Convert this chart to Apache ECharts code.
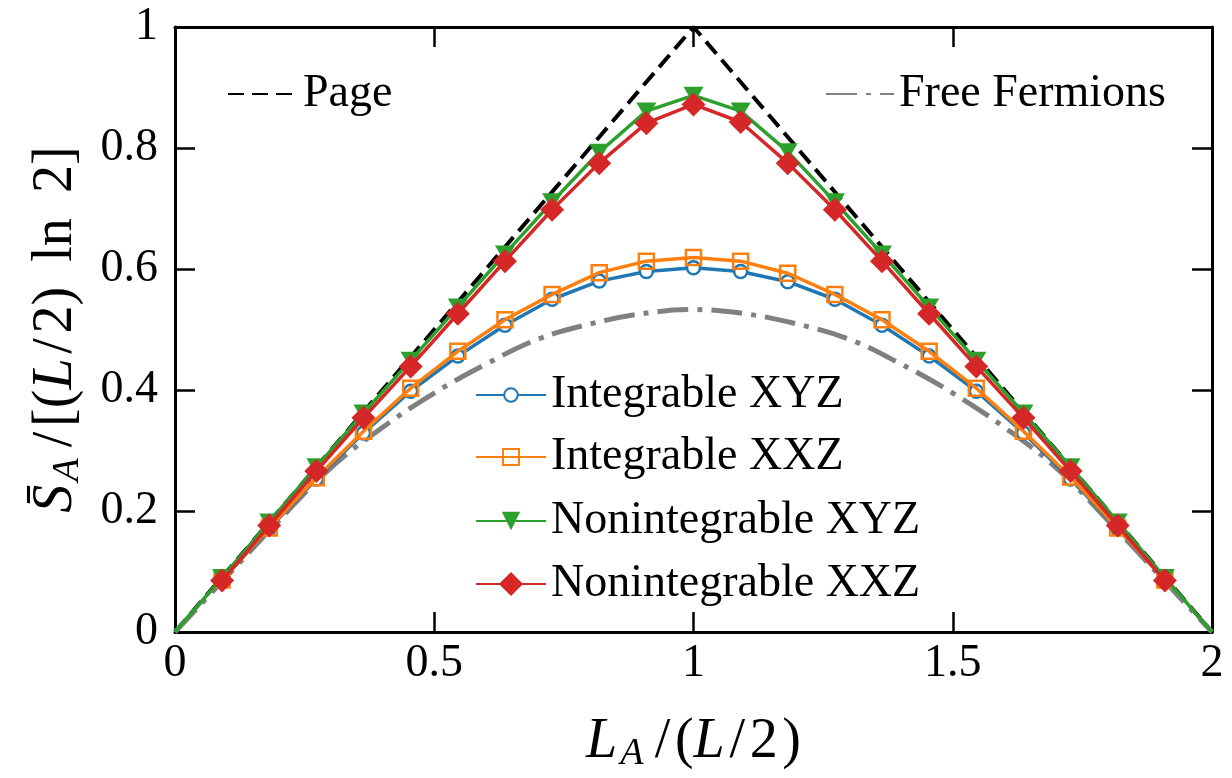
<!DOCTYPE html>
<html>
<head>
<meta charset="utf-8">
<script src="https://cdn.jsdelivr.net/npm/echarts@6/dist/echarts.min.js"></script>
<style>
  html, body { margin: 0; padding: 0; background: #ffffff; }
  #chart { width: 1232px; height: 778px; }
</style>
</head>
<body>
<div id="chart"></div>
<script>
// ---- data ----
const xValues = [0, 0.0909, 0.1818, 0.2727, 0.3636, 0.4545, 0.5455, 0.6364, 0.7273, 0.8182, 0.9091, 1.0,
                 1.0909, 1.1818, 1.2727, 1.3636, 1.4545, 1.5455, 1.6364, 1.7273, 1.8182, 1.9091, 2.0];
const integrableXYZ = [null, 0.086, 0.171, 0.253, 0.329, 0.398, 0.456, 0.507, 0.550, 0.580, 0.596, 0.602,
                       0.596, 0.579, 0.550, 0.507, 0.456, 0.398, 0.329, 0.253, 0.171, 0.086, null];
const integrableXXZ = [null, 0.086, 0.172, 0.255, 0.332, 0.403, 0.464, 0.516, 0.558, 0.594, 0.613, 0.619,
                       0.613, 0.593, 0.558, 0.516, 0.464, 0.403, 0.332, 0.256, 0.172, 0.086, null];
const nonintXYZ = [0, 0.090, 0.182, 0.273, 0.362, 0.449, 0.537, 0.625, 0.711, 0.793, 0.861, 0.887,
                   0.861, 0.794, 0.711, 0.625, 0.537, 0.449, 0.362, 0.273, 0.182, 0.090, 0];
const nonintXXZ = [null, 0.085, 0.176, 0.266, 0.354, 0.439, 0.526, 0.613, 0.698, 0.775, 0.841, 0.872,
                   0.843, 0.775, 0.698, 0.613, 0.526, 0.439, 0.354, 0.266, 0.176, 0.085, null];
const pageX = [0, 1, 2];
const pageY = [0, 1, 0];
const ffX = [0, 0.1, 0.2, 0.3, 0.4, 0.5, 0.6, 0.7, 0.8, 0.9, 1.0, 1.1, 1.2, 1.3, 1.4, 1.5, 1.6, 1.7, 1.8, 1.9, 2.0];
const ffY = [0, 0.092, 0.184, 0.271, 0.338, 0.395, 0.443, 0.484, 0.509, 0.526, 0.533,
             0.526, 0.509, 0.484, 0.443, 0.395, 0.338, 0.271, 0.184, 0.092, 0];
const xTicks = [0, 0.5, 1, 1.5, 2];
const yTicks = [0, 0.2, 0.4, 0.6, 0.8, 1];

// ---- build ----
const FONT = '"Liberation Serif", "DejaVu Serif", serif';
const TS = '\u2009'; // thin space (math-like spacing)
const HS = '\u200A'; // hair space
function pairs(xs, ys) {
  const out = [];
  for (let i = 0; i < xs.length; i++) {
    if (ys[i] === null) continue;
    const item = { value: [xs[i], ys[i]] };
    if (xs[i] === xTicks[0] || xs[i] === xTicks[xTicks.length - 1]) item.symbol = 'none';
    out.push(item);
  }
  return out;
}
const fmt = v => String(+v.toFixed(2));

const chart = echarts.init(document.getElementById('chart'), null, { renderer: 'canvas' });

const legendText = { fontFamily: FONT, fontSize: 46, color: '#000', lineHeight: 46 };
function lowerLegend(name, top, itemHeight) {
  return { data: [name], orient: 'vertical', left: 470, top: top, itemWidth: 70,
           itemHeight: itemHeight, textStyle: legendText };
}

const axisLineStyle = { onZero: false, lineStyle: { color: '#000', width: 3 } };
const tickStyle = { inside: true, length: 20, lineStyle: { color: '#000', width: 2.5 } };
function nameRich(fs) {
  return {
    i: { fontFamily: FONT, fontStyle: 'italic', fontSize: fs, lineHeight: fs + 6 },
    n: { fontFamily: FONT, fontSize: fs, lineHeight: fs + 6 },
    sub: { fontFamily: FONT, fontStyle: 'italic', fontSize: Math.round(fs * 0.68), lineHeight: Math.round(fs * 0.58), verticalAlign: 'bottom' }
  };
}
const xName = '{i|L}{sub|' + HS + 'A}{n|' + TS + '/' + HS + '(}{i|L}{n|' + HS + '/' + HS + '2' + HS + ')}';
const yName = '{i|S\u0304}{sub|' + HS + 'A}{n|' + TS + '/' + HS + '[(}{i|L}{n|' + HS + '/' + HS + '2)' + TS + ' ln' + TS + ' 2]}';

const option = {
  backgroundColor: '#ffffff',
  animation: false,
  grid: { left: 175, right: 20, top: 27, bottom: 144, containLabel: false },
  legend: [
    { data: ['Page'], left: 222, top: 66, itemWidth: 70, itemHeight: 20, textStyle: legendText },
    { data: ['Free Fermions'], left: 820, top: 66, itemWidth: 68, itemHeight: 20, textStyle: legendText },
    lowerLegend('Integrable XYZ', 367, 17),
    lowerLegend('Integrable XXZ', 429, 20),
    lowerLegend('Nonintegrable XYZ', 493, 23),
    lowerLegend('Nonintegrable XXZ', 556, 30)
  ],
  xAxis: [
    {
      type: 'value', min: xTicks[0], max: xTicks[xTicks.length - 1], interval: 0.5, position: 'bottom',
      axisLine: axisLineStyle, axisTick: tickStyle, splitLine: { show: false },
      axisLabel: { color: '#000', fontFamily: FONT, fontSize: 46, margin: 9, formatter: fmt,
                   showMinLabel: true, showMaxLabel: true },
      name: xName,
      nameLocation: 'middle', nameGap: 79,
      nameTextStyle: { fontFamily: FONT, fontSize: 56, color: '#000', rich: nameRich(56) }
    },
    {
      type: 'value', min: xTicks[0], max: xTicks[xTicks.length - 1], interval: 0.5, position: 'top',
      axisLine: axisLineStyle, axisTick: tickStyle, splitLine: { show: false }, axisLabel: { show: false }
    }
  ],
  yAxis: [
    {
      type: 'value', min: yTicks[0], max: yTicks[yTicks.length - 1], interval: 0.2, position: 'left',
      axisLine: axisLineStyle, axisTick: tickStyle, splitLine: { show: false },
      axisLabel: { color: '#000', fontFamily: FONT, fontSize: 46, margin: 17, formatter: fmt },
      name: yName,
      nameLocation: 'middle', nameGap: 88, nameRotate: 90,
      nameTextStyle: { fontFamily: FONT, fontSize: 56, color: '#000', rich: nameRich(56) }
    },
    {
      type: 'value', min: yTicks[0], max: yTicks[yTicks.length - 1], interval: 0.2, position: 'right',
      axisLine: axisLineStyle, axisTick: tickStyle, splitLine: { show: false }, axisLabel: { show: false }
    }
  ],
  series: [
    {
      name: 'Page', type: 'line', symbol: 'none',
      data: pageX.map((x, i) => [x, pageY[i]]),
      itemStyle: { color: 'rgba(0,0,0,0)' },
      lineStyle: { color: '#000000', width: 4, type: [16, 8] }, z: 2
    },
    {
      name: 'Free Fermions', type: 'line', symbol: 'none', smooth: 0.4,
      data: ffX.map((x, i) => [x, ffY[i]]),
      itemStyle: { color: 'rgba(0,0,0,0)' },
      lineStyle: { color: '#808080', width: 5, type: [31, 9, 5, 9] }, z: 2
    },
    {
      name: 'Integrable XYZ', type: 'line', data: pairs(xValues, integrableXYZ),
      symbol: 'circle', symbolSize: 13,
      itemStyle: { color: '#ffffff', borderColor: '#1f77b4', borderWidth: 2.5 },
      lineStyle: { color: '#1f77b4', width: 3.5 }, z: 3
    },
    {
      name: 'Integrable XXZ', type: 'line', data: pairs(xValues, integrableXXZ),
      symbol: 'rect', symbolSize: 15,
      itemStyle: { color: 'rgba(255,255,255,0)', borderColor: '#ff7f0e', borderWidth: 2.5 },
      lineStyle: { color: '#ff7f0e', width: 3.5 }, z: 4
    },
    {
      name: 'Nonintegrable XYZ', type: 'line', data: pairs(xValues, nonintXYZ),
      symbol: 'triangle', symbolSize: [20, 17], symbolRotate: 180,
      itemStyle: { color: '#2ca02c' },
      lineStyle: { color: '#2ca02c', width: 3.5 }, z: 5
    },
    {
      name: 'Nonintegrable XXZ', type: 'line', data: pairs(xValues, nonintXXZ),
      symbol: 'diamond', symbolSize: 24,
      itemStyle: { color: '#d62728' },
      lineStyle: { color: '#d62728', width: 3.5 }, z: 6
    }
  ]
};
chart.setOption(option);
</script>
</body>
</html>
